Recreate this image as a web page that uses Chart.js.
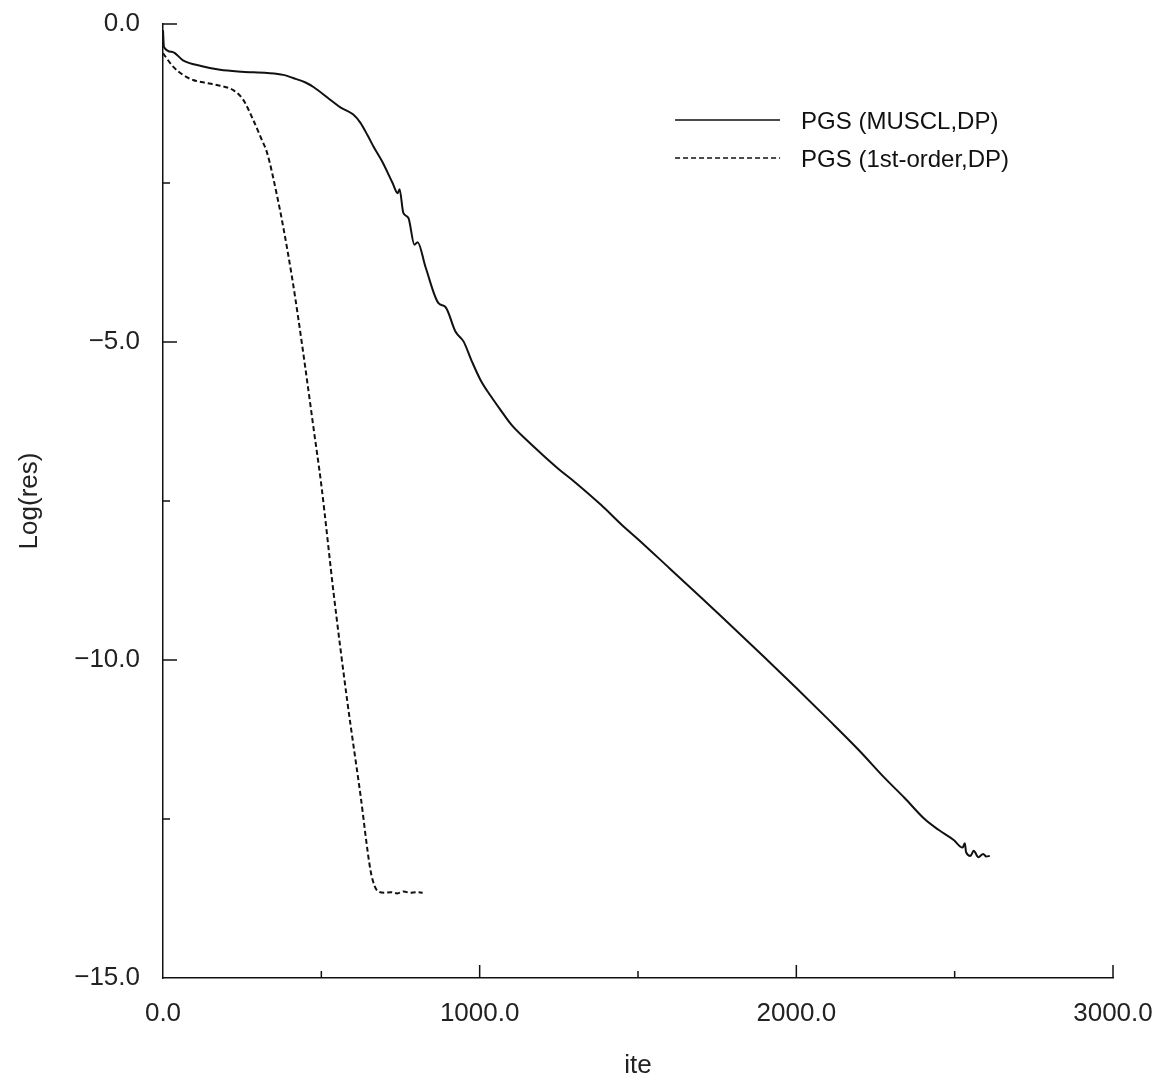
<!DOCTYPE html>
<html>
<head>
<meta charset="utf-8">
<script src="https://cdn.jsdelivr.net/npm/chart.js@4.4.0/dist/chart.umd.min.js"></script>
<style>
  body{margin:0;background:#fff;}
  #wrap{width:1169px;height:1089px;position:relative;}
</style>
</head>
<body>
<div id="wrap"><canvas id="resChart"></canvas></div>
<script>
// residual history
const musclIte = [0,3,30,63,120,180,250,329,380,411,450,475,528,560,600,623,646,665,693,725,741,747,759,775,794,804,829,870,892,924,949,975,1003,1035,1066,1100,1150,1200,1250,1300,1383,1450,1500,1600,1700,1800,1900,2000,2100,2200,2278,2342,2405,2449,2497,2525,2532,2536,2550,2560,2575,2590,2600,2611];
const musclRes = [-0.1,-0.36,-0.44,-0.57,-0.66,-0.72,-0.75,-0.77,-0.8,-0.85,-0.92,-0.99,-1.19,-1.31,-1.42,-1.55,-1.75,-1.93,-2.17,-2.5,-2.66,-2.6,-2.97,-3.05,-3.47,-3.43,-3.82,-4.39,-4.45,-4.84,-4.99,-5.3,-5.6,-5.85,-6.07,-6.3,-6.55,-6.78,-7.0,-7.2,-7.56,-7.88,-8.1,-8.56,-9.02,-9.49,-9.96,-10.44,-10.93,-11.43,-11.85,-12.17,-12.5,-12.67,-12.83,-12.95,-12.88,-13.02,-13.08,-13.0,-13.1,-13.05,-13.09,-13.08];

const firstIte = [0,32,63,95,140,180,222,253,285,310,329,361,380,408,427,449,475,500,540,582,623,655,668,680,700,720,740,760,780,800,820];
const firstRes = [-0.46,-0.67,-0.8,-0.88,-0.93,-0.97,-1.04,-1.19,-1.51,-1.8,-2.03,-2.72,-3.2,-4.0,-4.62,-5.39,-6.34,-7.25,-9.0,-10.65,-12.1,-13.3,-13.55,-13.64,-13.66,-13.65,-13.67,-13.64,-13.66,-13.65,-13.66];

const seriesNames = ["PGS (MUSCL,DP)","PGS (1st-order,DP)"];
const xLabelVals = [0,1000,2000,3000];
const yLabelVals = [0,-5,-10,-15];

const FONT = "'Liberation Sans', Arial, sans-serif";
const INK = "#111";

const fmt = v => (v<0 ? "\u2212" : "") + Math.abs(v).toFixed(1);
const toPts = (xs,ys) => xs.map((x,i)=>({x:x,y:ys[i]}));

// ticks drawn inward + legend with line samples
const innerTicks = {
  id:"innerTicks",
  afterDatasetsDraw(chart){
    const ctx=chart.ctx, a=chart.chartArea;
    const xs=chart.scales.x, ys=chart.scales.y;
    ctx.save();
    ctx.strokeStyle=INK; ctx.lineWidth=1.5;
    xs.ticks.forEach(t=>{
      if(t.value===0) return;
      const px=xs.getPixelForValue(t.value);
      const len = xLabelVals.includes(t.value) ? 13 : 7;
      ctx.beginPath(); ctx.moveTo(px,a.bottom); ctx.lineTo(px,a.bottom-len); ctx.stroke();
    });
    ys.ticks.forEach(t=>{
      if(t.value===-15) return;
      const py=ys.getPixelForValue(t.value);
      const len = yLabelVals.includes(t.value) ? 14 : 7;
      ctx.beginPath(); ctx.moveTo(a.left,py); ctx.lineTo(a.left+len,py); ctx.stroke();
    });

    // legend
    const lx = a.left + (a.right-a.left)*0.539;
    let ly = a.top + 96;
    chart.data.datasets.forEach(ds=>{
      ctx.strokeStyle=ds.borderColor; ctx.lineWidth=1.6;
      ctx.setLineDash(ds.borderDash||[]);
      ctx.beginPath(); ctx.moveTo(lx,ly); ctx.lineTo(lx+105,ly); ctx.stroke();
      ctx.setLineDash([]);
      ctx.fillStyle=INK; ctx.font="24px "+FONT;
      ctx.textBaseline="middle"; ctx.textAlign="left";
      ctx.fillText(ds.label,lx+126,ly+2);
      ly += 38;
    });
    ctx.restore();
  }
};

new Chart(document.getElementById("resChart"),{
  type:"line",
  data:{
    datasets:[
      {label:seriesNames[0],data:toPts(musclIte,musclRes),borderColor:INK,borderWidth:2,pointRadius:0,cubicInterpolationMode:"monotone",fill:false},
      {label:seriesNames[1],data:toPts(firstIte,firstRes),borderColor:INK,borderWidth:2,borderDash:[5,3],pointRadius:0,cubicInterpolationMode:"monotone",fill:false}
    ]
  },
  options:{
    responsive:true,
    maintainAspectRatio:false,
    animation:false,
    layout:{padding:{top:24,right:56,left:0,bottom:0}},
    plugins:{legend:{display:false},tooltip:{enabled:false}},
    scales:{
      x:{
        type:"linear",min:0,max:3000,
        afterFit(s){ s.height=111; s.paddingLeft=0; s.paddingRight=0; },
        grid:{display:false,drawTicks:false,tickLength:0},
        border:{display:true,color:INK,width:1.5},
        ticks:{stepSize:500,autoSkip:false,maxRotation:0,padding:20,color:"#222",
          font:{family:FONT,size:26},
          callback:v=>xLabelVals.includes(v)?fmt(v):""},
        title:{display:true,text:"ite",color:"#222",font:{family:FONT,size:26},padding:{top:0,bottom:8}}
      },
      y:{
        type:"linear",min:-15,max:0,
        afterFit(s){ s.width=163; s.paddingTop=0; s.paddingBottom=0; },
        grid:{display:false,drawTicks:false,tickLength:0},
        border:{display:true,color:INK,width:1.5},
        ticks:{stepSize:2.5,autoSkip:false,padding:23,color:"#222",
          font:{family:FONT,size:26},
          callback:v=>yLabelVals.includes(v)?fmt(v):""},
        title:{display:true,text:"Log(res)",color:"#222",font:{family:FONT,size:26},padding:{top:14,bottom:0}}
      }
    }
  },
  plugins:[innerTicks]
});
</script>
</body>
</html>
